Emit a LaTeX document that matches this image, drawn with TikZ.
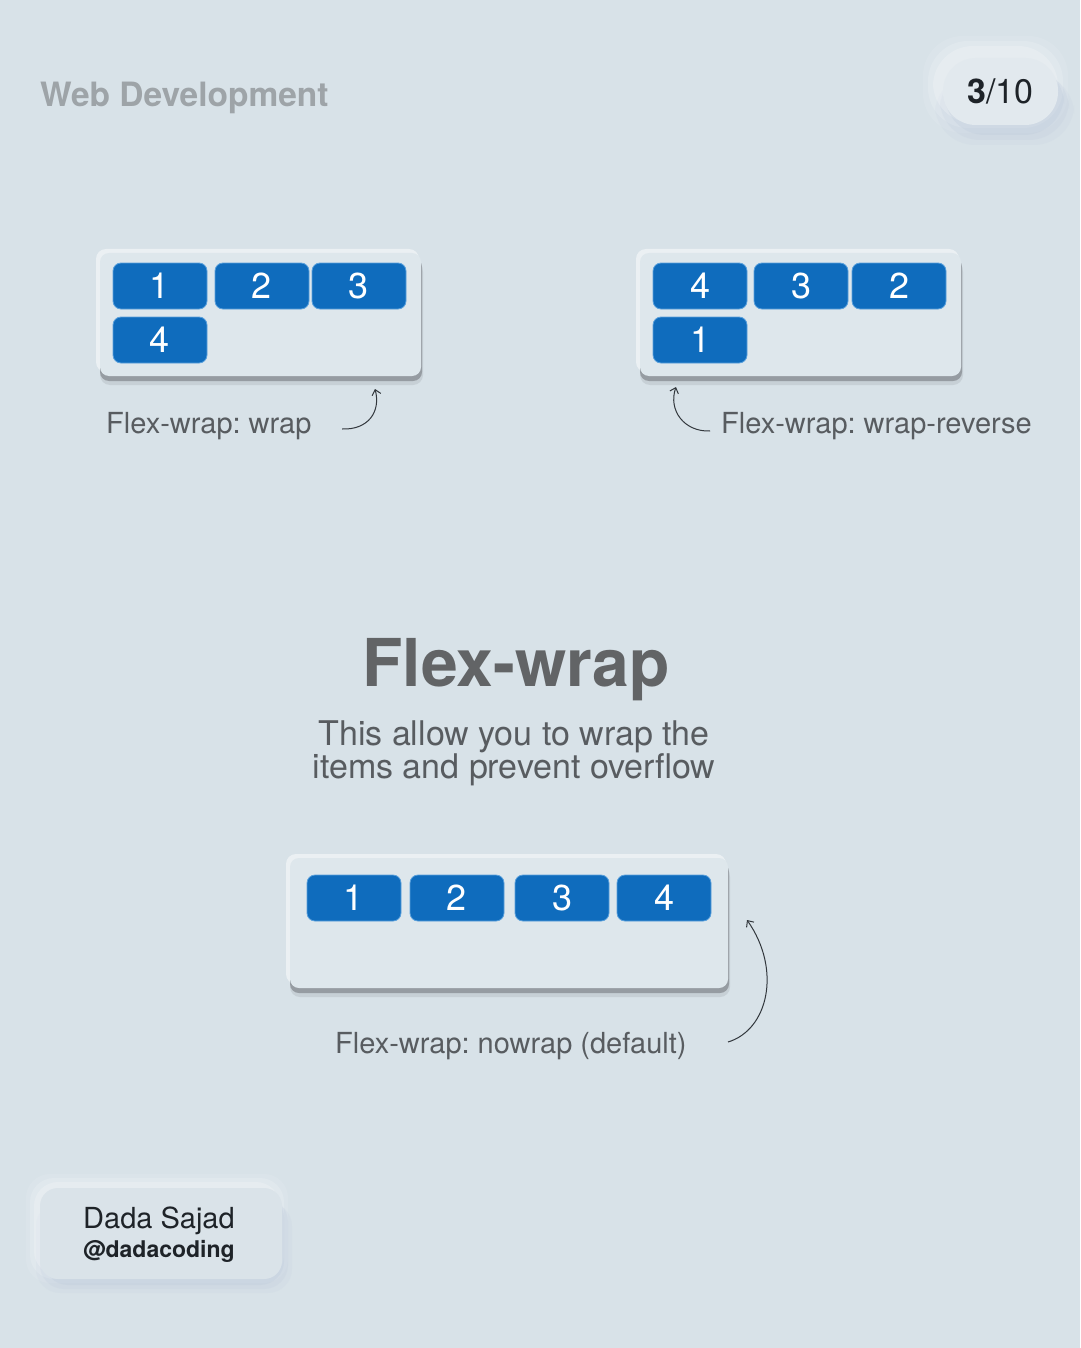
\documentclass[tikz,border=0pt]{standalone}
\usepackage{fontspec}
\setmainfont{TeX Gyre Heros}
\usetikzlibrary{arrows.meta,fit}
\definecolor{bg}{RGB}{216,226,232}
\definecolor{panelc}{RGB}{222,231,236}
\definecolor{shadowc}{RGB}{150,156,162}
\definecolor{itemblue}{RGB}{15,108,189}
\definecolor{itemedge}{RGB}{90,160,220}
\definecolor{labgray}{RGB}{88,92,96}
\definecolor{titlegray}{RGB}{98,100,102}
\definecolor{webgray}{RGB}{158,164,168}
\definecolor{darktext}{RGB}{30,35,40}
\definecolor{arrowc}{RGB}{50,55,60}
\definecolor{glowblue}{RGB}{180,195,215}
\newcommand\panelshadow[4]{%
  \fill[white,opacity=.5,rounded corners=10pt] (#1-4,#2-4) rectangle (#3-2,#4-4);
  \fill[shadowc,opacity=.25,rounded corners=10pt] (#1,#2+9) rectangle (#3+2,#4+9);
  \fill[shadowc,rounded corners=9pt] (#1,#2+5) rectangle (#3+1,#4+5);
}
\frenchspacing
\begin{document}
\begin{tikzpicture}[x=1pt,y=-1pt,
  panel/.style={rectangle,rounded corners=9pt,fill=panelc,inner sep=0pt},
  item/.style={rectangle,rounded corners=8pt,fill=itemblue,draw=itemedge,line width=0.8pt,
    minimum width=94pt,minimum height=46pt,text=white,inner sep=0pt,
    font=\fontsize{36}{36}\selectfont},
  lab/.style={text=labgray,font=\fontsize{29}{29}\selectfont,inner sep=0pt,anchor=base west},
  arr/.style={draw=arrowc,line width=1pt,-{Straight Barb[length=5pt,width=9pt]}}]
\useasboundingbox (0,0) rectangle (1080,1348);
\fill[bg] (0,0) rectangle (1080,1348);

% header
\node[anchor=base west,inner sep=0pt,text=webgray,font=\fontsize{33.5}{33.5}\selectfont\bfseries] (web) at (40,107) {Web Development};
\foreach \k/\o in {16/0.10,11/0.15,6/0.2}{
  \fill[white,opacity=\o,rounded corners=40pt] (943-\k-4,58-\k-6) rectangle (1058+\k-6,125+\k-8);
  \fill[glowblue,opacity=\o,rounded corners=40pt] (943-\k+8,58+\k) rectangle (1058+\k,125+\k+4);
}
\node[rectangle,rounded corners=33pt,fill={rgb,255:red,226;green,233;blue,238},inner sep=0pt,fit={(943,58) (1058,125)}] (pill) {};
\node[text=darktext,inner sep=0pt,font=\fontsize{34}{34}\selectfont] (page) at (pill.center) {\textbf{3}/10};

% panel 1: wrap
\panelshadow{100}{253}{421}{376}
\node[panel,fit={(100,253) (421,376)}] (c1) {};
\node[item] (a1) at (160,286) {1};
\node[item] (a2) at (262,286) {2};
\node[item] (a3) at (359,286) {3};
\node[item] (a4) at (160,340) {4};
\node[lab] (l1) at (106,433) {Flex-wrap: wrap};
\coordinate (s1) at (342,429);
\coordinate (e1) at (375,389);
\draw[arr] (s1) .. controls (368,430) and (381,412) .. (e1);

% panel 2: wrap-reverse
\panelshadow{640}{253}{961}{376}
\node[panel,fit={(640,253) (961,376)}] (c2) {};
\node[item] (b4) at (700,286) {4};
\node[item] (b3) at (801,286) {3};
\node[item] (b2) at (899,286) {2};
\node[item] (b1) at (700,340) {1};
\node[lab] (l2) at (721,433) {Flex-wrap: wrap-reverse};
\coordinate (s2) at (710,431);
\coordinate (e2) at (676,387);
\draw[arr] (s2) .. controls (684,432) and (668,410) .. (e2);

% title
\node[anchor=base,inner sep=0pt,text=titlegray,font=\fontsize{66}{66}\selectfont\bfseries] (title) at (516,686) {Flex-wrap};
\node[anchor=base,inner sep=0pt,text=labgray,font=\fontsize{34}{34}\selectfont] (sub1) at (514,745) {This allow you to wrap the};
\node[anchor=base,inner sep=0pt,text=labgray,font=\fontsize{34}{34}\selectfont] (sub2) at (514,778) {items and prevent overflow};

% panel 3: nowrap
\panelshadow{290}{858}{728}{988}
\node[panel,fit={(290,858) (728,988)}] (c3) {};
\node[item] (d1) at (354,898) {1};
\node[item] (d2) at (457,898) {2};
\node[item] (d3) at (562,898) {3};
\node[item] (d4) at (664,898) {4};
\node[lab] (l3) at (335,1053) {Flex-wrap: nowrap (default)};
\coordinate (s3) at (728,1042);
\coordinate (e3) at (747,920);
\draw[arr] (s3) .. controls (768,1030) and (782,970) .. (e3);

% author card
\foreach \k/\o in {14/0.10,10/0.15,6/0.2}{
  \fill[white,opacity=\o,rounded corners=24pt] (40-\k,1188-\k) rectangle (282+\k-8,1279+\k-10);
  \fill[glowblue,opacity=\o,rounded corners=24pt] (40-\k+10,1188+\k) rectangle (282+\k-4,1279+\k);
}
\node[rectangle,rounded corners=18pt,fill={rgb,255:red,218;green,227;blue,233},inner sep=0pt,fit={(40,1188) (282,1279)}] (card) {};
\node[anchor=base west,inner sep=0pt,text=darktext,font=\fontsize{29}{29}\selectfont] (name) at (83,1228) {Dada Sajad};
\node[anchor=base west,inner sep=0pt,text=darktext,font=\fontsize{23}{23}\selectfont\bfseries] (handle) at (83,1257) {@dadacoding};
\end{tikzpicture}
\end{document}
